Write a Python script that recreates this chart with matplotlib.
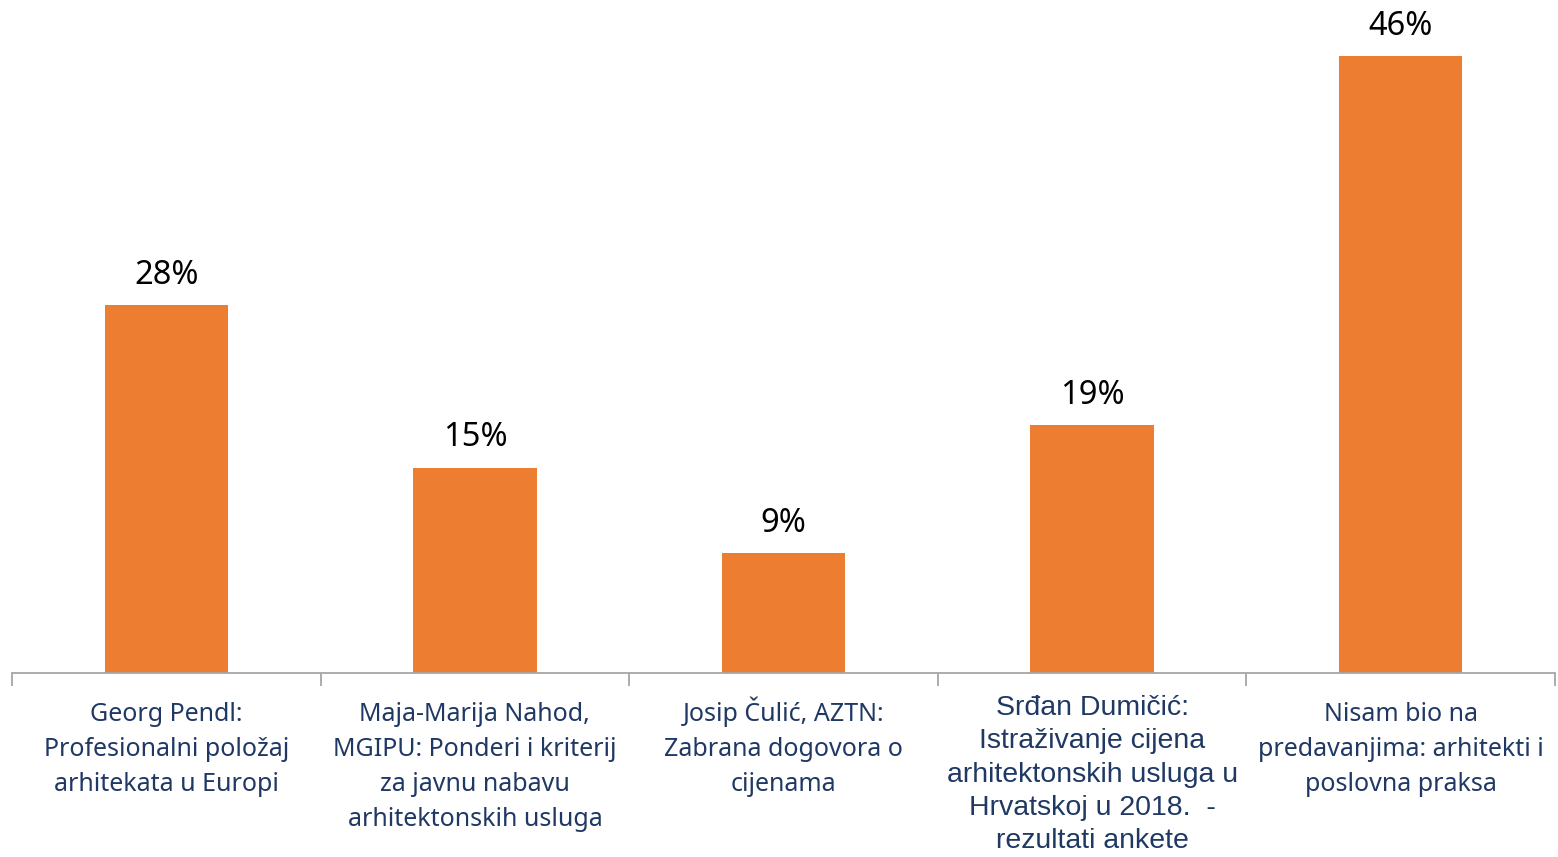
import matplotlib.pyplot as plt
import matplotlib.transforms as mtransforms

# survey: which lecture did you find most useful
categories = [
    "Georg Pendl:\nProfesionalni položaj\narhitekata u Europi",
    "Maja-Marija Nahod,\nMGIPU: Ponderi i kriterij\nza javnu nabavu\narhitektonskih usluga",
    "Josip Čulić, AZTN:\nZabrana dogovora o\ncijenama",
    "Srđan Dumičić:\nIstraživanje cijena\narhitektonskih usluga u\nHrvatskoj u 2018.  -\nrezultati ankete",
    "Nisam bio na\npredavanjima: arhitekti i\nposlovna praksa",
]
values = [27.6, 15.4, 9.0, 18.6, 46.3]

orange = "#ED7D31"
navy = "#1F3864"

fig = plt.figure(figsize=(15.58, 8.57), dpi=100)
ax = fig.add_axes([12 / 1558, 1 - 673 / 857, 1543 / 1558, 673 / 857])

x = range(len(values))
ax.bar(x, values, width=0.4, color=orange)
ax.set_xlim(-0.5, len(values) - 0.5)
ax.set_ylim(0, 50.5)

for i, v in enumerate(values):
    ax.text(i, v + 1.0, f"{v:.0f}%", ha="center", va="bottom",
            fontsize=23.5, family="Noto Sans", color="black")

for s in ["top", "right", "left"]:
    ax.spines[s].set_visible(False)
ax.spines["bottom"].set_color("#A6A6A6")
ax.spines["bottom"].set_linewidth(1.3)
ax.set_yticks([])
ax.set_xticks([i - 0.5 for i in range(len(values) + 1)])
ax.set_xticklabels([])
ax.tick_params(axis="x", direction="out", length=9, width=1.3, color="#A6A6A6")

trans = mtransforms.blended_transform_factory(ax.transData, ax.transAxes)
for i, lab in enumerate(categories):
    if i == 3:
        ax.text(i, -0.033, lab, transform=trans, ha="center", va="top",
                fontsize=20.5, family="Liberation Sans", color=navy,
                linespacing=1.36, clip_on=False)
    else:
        # the caron on Č makes the text box taller
        y0 = -0.0345 if i == 2 else -0.0434
        ax.text(i, y0, lab, transform=trans, ha="center", va="top",
                fontsize=18, family="Noto Sans", color=navy,
                linespacing=1.53, clip_on=False)

fig.savefig("out.png", dpi=100)
